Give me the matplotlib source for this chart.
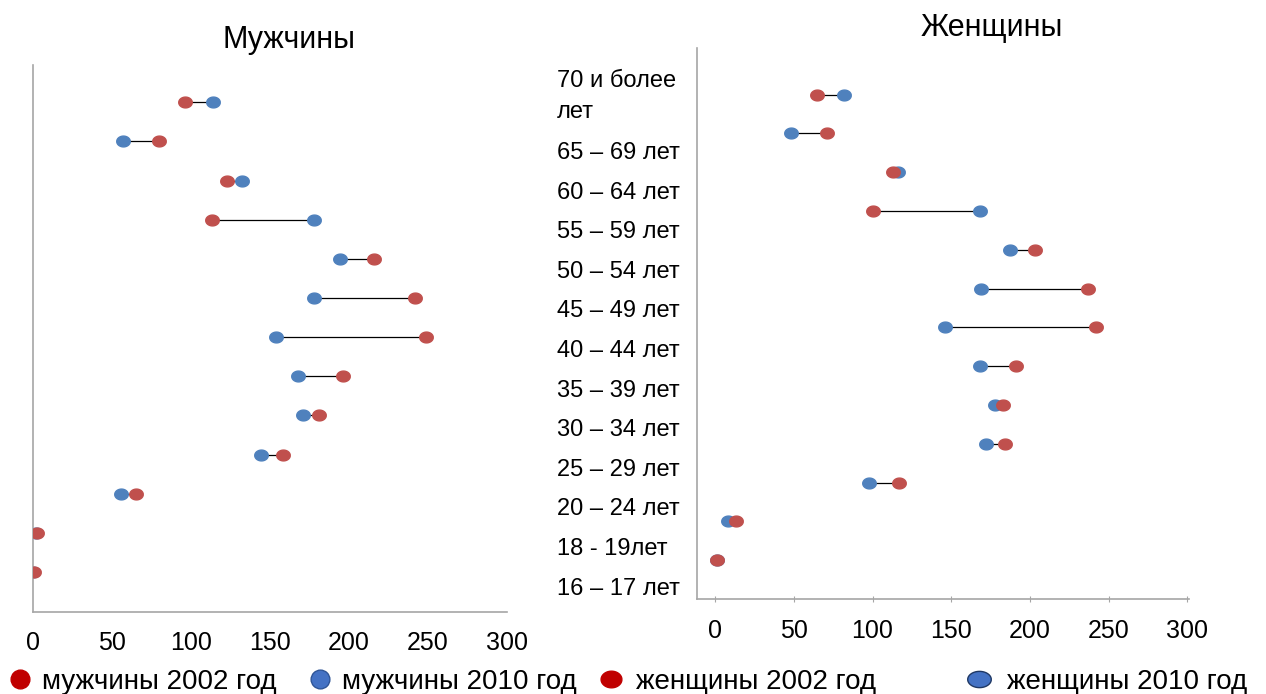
import matplotlib.pyplot as plt
import numpy as np
from matplotlib.lines import Line2D
from matplotlib.path import Path

plt.rcParams["font.family"] = ["Liberation Sans", "DejaVu Sans"]

age_groups = [
    "70 и более\nлет",
    "65 – 69 лет",
    "60 – 64 лет",
    "55 – 59 лет",
    "50 – 54 лет",
    "45 – 49 лет",
    "40 – 44 лет",
    "35 – 39 лет",
    "30 – 34 лет",
    "25 – 29 лет",
    "20 – 24 лет",
    "18 - 19лет",
    "16 – 17 лет",
]

# values, top row (70+) first
men_2002 = [96, 80, 123, 113, 216, 242, 249, 196, 181, 158, 65, 2.5, 0.5]
men_2010 = [114, 57, 132, 178, 194, 178, 154, 168, 171, 144, 56, 2, 0.3]
women_2002 = [65, 71, 113, 100, 203, 237, 242, 191, 183, 184, 117, 13, 1.5]
women_2010 = [82, 48, 116, 168, 187, 169, 146, 168, 178, 172, 98, 8, 1]

legend_labels = ["мужчины 2002 год", "мужчины 2010 год",
                 "женщины 2002 год", "женщины 2010 год"]

RED = "#c0504d"
BLUE = "#4f81bd"
SPINE = "#a6a6a6"

# slightly wide ellipse marker
t = np.linspace(0, 2 * np.pi, 40)
ellipse = Path(np.column_stack([1.25 * np.cos(t), np.sin(t)]))
wide_ellipse = Path(np.column_stack([1.45 * np.cos(t), np.sin(t)]))

rows = np.arange(len(age_groups))[::-1]

fig = plt.figure(figsize=(12.66, 6.94), dpi=100)

ax_m = fig.add_axes([33 / 1266, 1 - 612 / 694, 474 / 1266, 547 / 694])
ax_w = fig.add_axes([697 / 1266, 1 - 599 / 694, 492 / 1266, 551 / 694])


def draw_panel(ax, v2002, v2010, title, title_x, title_y):
    ax.hlines(rows, v2010, v2002, color="black", linewidth=0.9, zorder=1)
    ax.scatter(v2010, rows, marker=ellipse, s=95, color=BLUE, zorder=2)
    ax.scatter(v2002, rows, marker=ellipse, s=95, color=RED, zorder=3)
    ax.set_xticks([0, 50, 100, 150, 200, 250, 300])
    ax.set_yticks([])
    for side in ["top", "right"]:
        ax.spines[side].set_visible(False)
    for side in ["left", "bottom"]:
        ax.spines[side].set_color(SPINE)
        ax.spines[side].set_linewidth(1.2)
    ax.tick_params(axis="x", labelsize=18, colors=SPINE, labelcolor="black")
    ax.set_title(title, fontsize=22, x=title_x, y=title_y)


draw_panel(ax_m, men_2002, men_2010, "Мужчины", 0.54, 1.016)
ax_m.set_xlim(0, 300)
ax_m.set_ylim(-1.02, 12.95)
ax_m.tick_params(axis="x", length=0, pad=14)

draw_panel(ax_w, women_2002, women_2010, "Женщины", 0.6, 1.007)
ax_w.set_xlim(-11.5, 301)
ax_w.set_ylim(-1.0, 13.2)
ax_w.tick_params(axis="x", length=5, direction="inout", pad=12)

# age labels between the panels
for i, label in enumerate(age_groups):
    if i == 0:
        y_px = 96.5
    else:
        y_px = 153 + (i - 1) * 39.6
    fig.text(557 / 1266, 1 - y_px / 694, label, fontsize=17, ha="left",
             va="center", linespacing=1.55)

legend_red = "#c00000"
legend_blue = "#4472c4"
legend_handles = [
    Line2D([], [], linestyle="none", marker="o", markersize=13.5,
           markerfacecolor=legend_red, markeredgecolor=legend_red),
    Line2D([], [], linestyle="none", marker="o", markersize=13.5,
           markerfacecolor=legend_blue, markeredgecolor="#2f5597"),
    Line2D([], [], linestyle="none", marker=ellipse, markersize=15,
           markerfacecolor=legend_red, markeredgecolor=legend_red),
    Line2D([], [], linestyle="none", marker=wide_ellipse, markersize=17,
           markerfacecolor=legend_blue, markeredgecolor="#1f3864"),
]
# left edge of each legend entry and gap to the text
legend_x = [9, 309, 600, 968]
legend_pad = [0.4, 0.4, 0.48, 0.6]
for handle, label, x, pad in zip(legend_handles, legend_labels, legend_x,
                                 legend_pad):
    fig.legend([handle], [label], loc="center left",
               bbox_to_anchor=(x / 1266, 1 - 682 / 694), frameon=False,
               fontsize=20, handlelength=0.8, handletextpad=pad,
               borderaxespad=0, borderpad=0)

fig.savefig("out.png", dpi=100)
